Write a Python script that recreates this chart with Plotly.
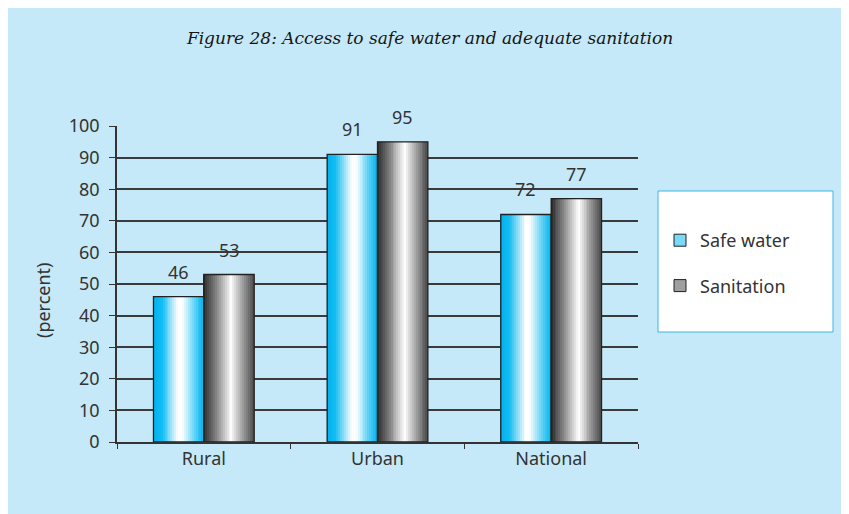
import plotly.graph_objects as go

# ---- data ----
categories = ["Rural", "Urban", "National"]
safe_water = [46, 91, 72]
sanitation = [53, 95, 77]
series_names = ["Safe water", "Sanitation"]
y_ticks = [0, 10, 20, 30, 40, 50, 60, 70, 80, 90, 100]

# ---- style ----
PAGE_OFF = 8  # page body margin
W, H = 849 - PAGE_OFF, 514 - PAGE_OFF
L, R, T, B = 117 - PAGE_OFF, 211, 126 - PAGE_OFF, 72
BG = "#c6e9f9"
TXT = "#333333"
BAR_W = 0.29
N_STRIPS = 26

grad_water = [(0.0, (0, 178, 238)), (0.18, (20, 188, 242)), (0.5, (255, 255, 255)),
              (0.58, (255, 255, 255)), (0.85, (80, 205, 245)), (1.0, (0, 182, 240))]
grad_san = [(0.0, (40, 40, 40)), (0.25, (130, 130, 130)), (0.55, (255, 255, 255)),
            (0.8, (150, 150, 150)), (1.0, (75, 75, 75))]


def grad_color(stops, t):
    for (t0, c0), (t1, c1) in zip(stops[:-1], stops[1:]):
        if t0 <= t <= t1:
            f = 0 if t1 == t0 else (t - t0) / (t1 - t0)
            c = [round(a + (b - a) * f) for a, b in zip(c0, c1)]
            return "rgb(%d,%d,%d)" % tuple(c)
    return "rgb(%d,%d,%d)" % stops[-1][1]


def px2x(px):  # reference screen px -> paper x
    return (px - PAGE_OFF - L) / (W - L - R)


def px2y(py):  # reference screen px -> paper y
    return (H - B - (py - PAGE_OFF)) / (H - T - B)


fig = go.Figure()

series = [(series_names[0], safe_water, grad_water, -BAR_W),
          (series_names[1], sanitation, grad_san, 0.0)]

for gi, (name, vals, stops, off0) in enumerate(series):
    sw = BAR_W / N_STRIPS
    for i in range(N_STRIPS):
        t = (i + 0.5) / N_STRIPS
        fig.add_trace(go.Bar(
            x=categories, y=vals, width=sw * 1.02, offset=off0 + i * sw,
            marker=dict(color=grad_color(stops, t), line=dict(width=0)),
            showlegend=False, hoverinfo="skip"))
    # outline
    fig.add_trace(go.Bar(
        x=categories, y=vals, width=BAR_W, offset=off0, name=name,
        legendgroup=name,
        marker=dict(color="rgba(0,0,0,0)", line=dict(color="#222222", width=1.3)),
        showlegend=False))
    # legend swatch trace (no visible bars)
    fig.add_trace(go.Bar(
        x=[categories[0]], y=[0], width=0.0001, name=name, legendgroup=name,
        marker=dict(color=grad_color(stops, 0.32), line=dict(color="#222222", width=1)),
        showlegend=True, hoverinfo="skip"))
    # value labels
    for ci, v in enumerate(vals):
        fig.add_annotation(x=ci + off0 + BAR_W / 2, y=v, xref="x", yref="y",
                           text=str(v), showarrow=False, yshift=25,
                           font=dict(family="Noto Sans", size=18, color=TXT))

shapes = [
    # legend box
    dict(type="rect", xref="paper", yref="paper", x0=px2x(658), x1=px2x(833),
         y0=px2y(332), y1=px2y(191), fillcolor="white",
         line=dict(color="#3ab4e8", width=1), layer="below"),
]

fig.update_layout(
    width=W, height=H,
    margin=dict(l=L, r=R, t=T, b=B),
    paper_bgcolor=BG, plot_bgcolor="rgba(0,0,0,0)",
    barmode="overlay",
    shapes=shapes,
    font=dict(family="Noto Sans", size=18, color=TXT),
    title=dict(text="<i>Figure 28: Access to safe water and adequate sanitation</i>",
               xref="container", yref="container",
               x=(430 - PAGE_OFF) / W, y=1 - (38 - PAGE_OFF) / H,
               xanchor="center", yanchor="middle",
               font=dict(family="DejaVu Serif", size=17, color="#151515")),
    legend=dict(x=px2x(660), y=px2y(222), xanchor="left", yanchor="top",
                bgcolor="rgba(0,0,0,0)", borderwidth=0,
                traceorder="grouped", tracegroupgap=19,
                font=dict(family="Noto Sans", size=18, color=TXT)),
    xaxis=dict(type="category", tickson="boundaries", ticks="outside", ticklen=5,
               tickcolor=TXT, tickwidth=1, showline=True, linecolor=TXT, linewidth=1.5,
               showgrid=False, tickfont=dict(size=18, color=TXT)),
    yaxis=dict(range=[0, 100], tickvals=y_ticks, ticks="outside", ticklen=6,
               tickcolor=TXT, showline=True, linecolor=TXT, linewidth=1.5,
               showgrid=True, gridcolor="#3a3a3a", gridwidth=1.5, zeroline=False,
               ticklabelstandoff=6, tickfont=dict(size=18, color=TXT)),
)

fig.add_annotation(text="(percent)", xref="paper", yref="paper",
                   x=px2x(43), y=px2y(300), textangle=-90, showarrow=False,
                   xanchor="center", yanchor="middle",
                   font=dict(family="Noto Sans", size=18, color=TXT))

fig.write_html("out.html")
